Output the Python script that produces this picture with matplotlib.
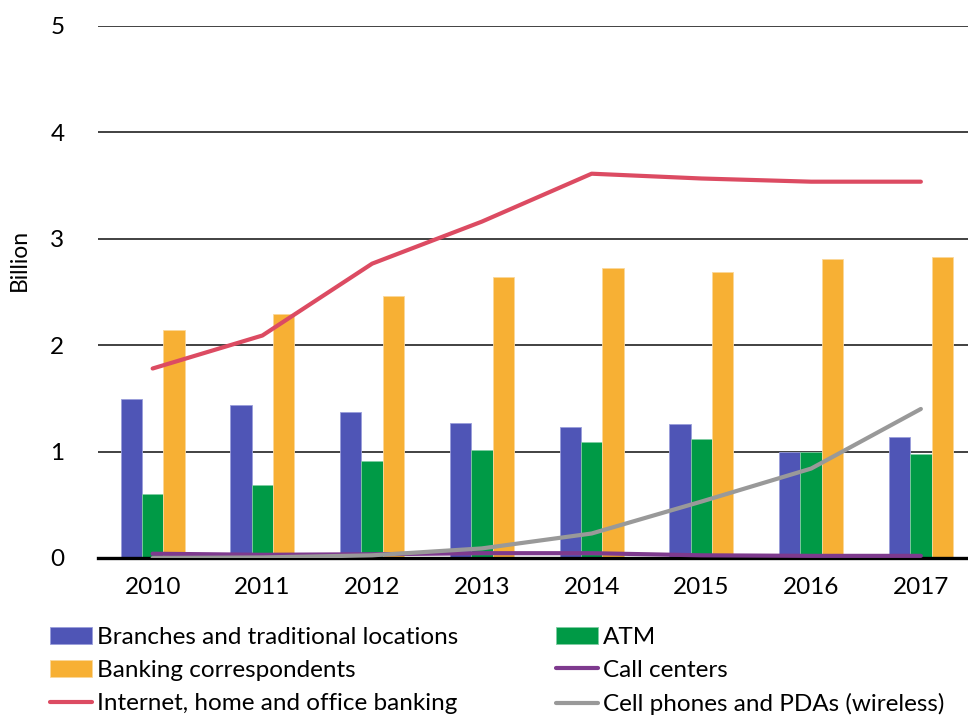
import numpy as np
import matplotlib
matplotlib.use("Agg")
import matplotlib.pyplot as plt

plt.rcParams['font.family'] = ['Lato', 'DejaVu Sans']

years = ['2010', '2011', '2012', '2013', '2014', '2015', '2016', '2017']
branches = [1.49, 1.44, 1.375, 1.27, 1.23, 1.26, 1.00, 1.14]
atm = [0.60, 0.685, 0.915, 1.015, 1.085, 1.115, 1.00, 0.975]
correspondents = [2.145, 2.29, 2.465, 2.64, 2.72, 2.685, 2.81, 2.825]
internet = [1.78, 2.09, 2.765, 3.16, 3.61, 3.565, 3.535, 3.535]
call_centers = [0.04, 0.03, 0.035, 0.045, 0.045, 0.025, 0.02, 0.02]
cell_phones = [0.0, 0.005, 0.025, 0.09, 0.23, 0.53, 0.84, 1.40]

c_blue = '#4F55B6'
c_green = '#009A46'
c_orange = '#F7B034'
c_red = '#DC4B62'
c_purple = '#7E3A8E'
c_gray = '#999999'

fig = plt.figure(figsize=(9.68, 7.15), dpi=100)
ax = fig.add_axes([0.101, 0.2196, 0.907, 0.7444])

x = np.arange(len(years))
w = 0.195
b1 = ax.bar(x - w, branches, w, color=c_blue, edgecolor='#9A9EDB', linewidth=0.6, zorder=2,
            label='Branches and traditional locations')
b2 = ax.bar(x, atm, w, color=c_green, edgecolor='#7FCCA2', linewidth=0.6, zorder=2, label='ATM')
b3 = ax.bar(x + w, correspondents, w, color=c_orange, edgecolor='#FBD89A', linewidth=0.6, zorder=2,
            label='Banking correspondents')

l1, = ax.plot(x, internet, color=c_red, lw=3, zorder=4, solid_capstyle='round',
              label='Internet, home and office banking')
l2, = ax.plot(x, call_centers, color=c_purple, lw=3, zorder=4, solid_capstyle='round',
              label='Call centers')
l3, = ax.plot(x, cell_phones, color=c_gray, lw=3, zorder=5, solid_capstyle='round',
              label='Cell phones and PDAs (wireless)')

ax.set_xlim(-0.5, len(years) - 0.5)
ax.set_ylim(0, 5)
ax.set_yticks(range(6))
ax.set_xticks(x)
ax.set_xticklabels(years)
ax.tick_params(axis='both', length=0, labelsize=17.5, colors='black')
ax.tick_params(axis='y', pad=24)
ax.tick_params(axis='x', pad=14)
ax.yaxis.grid(True, color='#333333', lw=1.3, zorder=0)
ax.set_axisbelow(True)
for s in ['left', 'right', 'top']:
    ax.spines[s].set_visible(False)
ax.spines['bottom'].set_color('black')
ax.spines['bottom'].set_linewidth(2.4)
ax.spines['bottom'].set_zorder(3)
ax.set_ylabel('Billion', fontsize=16.5)
ax.yaxis.set_label_coords(-0.077, 0.56)

leg_kw = dict(loc='upper left', frameon=False, fontsize=17.5, handlelength=1.73,
              handletextpad=0.2, labelspacing=0.5, borderaxespad=0, borderpad=0)
leg1 = fig.legend([b1, b3, l1], [b1.get_label(), b3.get_label(), l1.get_label()],
                  bbox_to_anchor=(0.052, 0.1235), **leg_kw)
leg2 = fig.legend([b2, l2, l3], [b2.get_label(), l2.get_label(), l3.get_label()],
                  bbox_to_anchor=(0.574, 0.1235), **leg_kw)

fig.savefig('out.png', dpi=100)
